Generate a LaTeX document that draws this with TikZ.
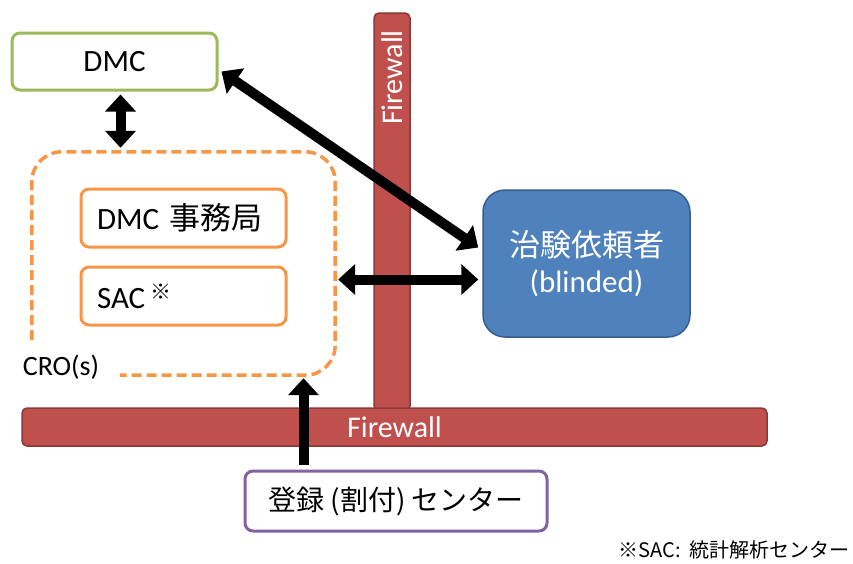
\documentclass[tikz,border=0pt]{standalone}
\usepackage{fontspec}
\setmainfont{Carlito}
\newfontfamily\jpfont{Noto Sans CJK JP}
\newcommand\jp[1]{{\jpfont #1}}
\usepackage{tikz}
\usetikzlibrary{arrows.meta,positioning,calc}
\definecolor{dmcgreen}{HTML}{9BBB59}
\definecolor{croorange}{HTML}{F79646}
\definecolor{wallred}{HTML}{C0504D}
\definecolor{wallborder}{HTML}{8C3836}
\definecolor{sponsorblue}{HTML}{4F81BD}
\definecolor{sponsorborder}{HTML}{385D8A}
\definecolor{regpurple}{HTML}{8064A2}

\begin{document}
\begin{tikzpicture}[x=1pt,y=-1pt,
  box/.style={draw,fill=white,rounded corners=8pt,line width=3pt,minimum height=58pt,font=\fontsize{31}{36}\selectfont},
  inbox/.style={box,draw=croorange,text width=173pt,align=left,inner xsep=16pt},
  wall/.style={fill=wallred,draw=wallborder,line width=1.5pt,rounded corners=5pt,inner sep=0pt},
  walltext/.style={text=white,font=\fontsize{30}{34}\selectfont,inner sep=0pt},
  both/.style={line width=10pt,{Triangle[length=17pt,width=30pt]}-{Triangle[length=17pt,width=30pt]}},
  one/.style={line width=10pt,-{Triangle[length=17pt,width=30pt]}}]
  \useasboundingbox (0,0) rectangle (853,563);

  \node[wall,minimum width=36pt,minimum height=398pt] (fwv) at (392,212) {};
  \node[walltext,rotate=90,anchor=east] (fwvtext) at (392,30) {Firewall};
  \node[wall,minimum width=745pt,minimum height=38pt] (fwh) at (394.5,427) {};
  \node[walltext] (fwhtext) at (fwh) {Firewall};

  \node[box,draw=dmcgreen,minimum width=205pt,minimum height=57pt] (dmc) at (114.5,61.5) {DMC};
  \node[minimum width=303pt,minimum height=223pt,inner sep=0pt] (cro) at (183.5,263.5) {};
  \draw[croorange,line width=3.5pt,dash pattern=on 10pt off 5pt,rounded corners=30pt]
    ($(cro.south west)+(0,-35)$) -- (cro.north west) -- (cro.north east) -- (cro.south east) -- ($(cro.south west)+(88,0)$);
  \node[font=\fontsize{28}{32}\selectfont] (crolabel) at (61,367) {CRO(s)};
  \node[inbox] (office) at (183.5,218) {DMC \jp{事務局}};
  \node[inbox] (sac) at (183.5,296) {SAC\,\raisebox{9pt}{\jpfont\fontsize{21}{21}\selectfont ※}};

  \node[draw=sponsorborder,fill=sponsorblue,line width=1.5pt,rounded corners=22pt,minimum width=207pt,minimum height=147pt,
    text=white,align=center,font=\fontsize{31}{36}\selectfont] (sponsor) at (586.5,263.5) {\jp{治験依頼者}\\(blinded)};
  \node[box,draw=regpurple,minimum width=302pt,minimum height=60pt,font=\jpfont\fontsize{28}{32}\selectfont] (reg) at (396,501) {登録 (割付) センター};
  \node[anchor=base east,font=\jpfont\fontsize{20}{22}\selectfont,inner sep=0pt] (note) at (850,557) {※SAC:\ \ 統計解析センター};

  \coordinate (dmcfoot) at ($(dmc.south)+(6,3)$);
  \coordinate (regtop) at ($(reg.north west)+(60,-5)$);
  \draw[both] (dmcfoot) -- ($(dmcfoot |- cro.north)+(0,-4)$);
  \draw[both] ($(dmc.east)+(3,10)$) -- ($(sponsor.west)+(-4,-16)$);
  \draw[both] ($(cro.east)+(3,16)$) -- ($(sponsor.west)+(-4,16)$);
  \draw[one] (regtop) -- ($(regtop |- cro.south)+(0,3)$);
\end{tikzpicture}
\end{document}
